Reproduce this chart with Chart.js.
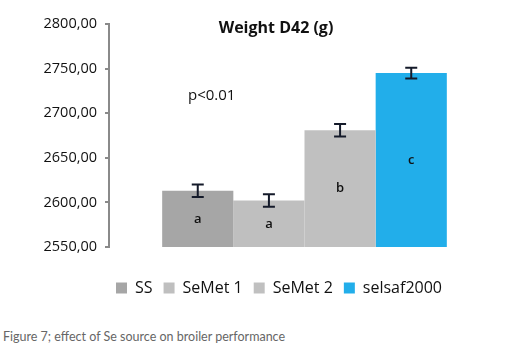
<!DOCTYPE html>
<html>
<head>
<meta charset="utf-8">
<script src="https://cdn.jsdelivr.net/npm/chart.js@4/dist/chart.umd.min.js"></script>
<style>
  html, body { margin: 0; padding: 0; background: #fff; }
  body { width: 515px; height: 357px; position: relative; overflow: hidden; }
  #wrap { position: absolute; left: 40px; top: 0; width: 475px; height: 320px; }
  #caption { position: absolute; left: 3px; top: 329px; font-family: Lato, "Open Sans", sans-serif; font-size: 12.5px; color: #666; white-space: nowrap; }
</style>
</head>
<body>
<div id="wrap"><canvas id="c" width="475" height="320"></canvas></div>
<div id="caption">Figure 7; effect of Se source on broiler performance</div>
<script>
const seriesNames = ['SS', 'SeMet 1', 'SeMet 2', 'selsaf2000'];
const weights = [2613, 2602, 2681, 2745];
const errors = [7, 7, 7, 6];
const letters = ['a', 'a', 'b', 'c'];
const colors = ['#a6a6a6', '#bfbfbf', '#c0c0c0', '#22aeea'];
const yTicks = [2550, 2600, 2650, 2700, 2750, 2800];
const titleText = 'Weight D42 (g)';
const noteText = 'p<0.01';

const FONT = '"Open Sans", sans-serif';

const extras = {
  id: 'extras',
  afterLayout(chart) {
    if (chart.legend) { chart.legend.left += 9; chart.legend.right += 9; }
  },
  afterDatasetsDraw(chart) {
    const ctx = chart.ctx;
    const y = chart.scales.y;
    const base = y.getPixelForValue(yTicks[0]);
    ctx.save();
    chart.data.datasets.forEach((ds, i) => {
      const bar = chart.getDatasetMeta(i).data[0];
      const x = bar.x;
      const top = y.getPixelForValue(weights[i]);
      // letters
      ctx.fillStyle = '#111';
      ctx.font = '600 13px ' + FONT;
      ctx.textAlign = 'center';
      ctx.textBaseline = 'middle';
      ctx.fillText(letters[i], x, (top + base) / 2);
      // error bars
      const yTop = y.getPixelForValue(weights[i] + errors[i]);
      const yBot = y.getPixelForValue(weights[i] - errors[i]);
      ctx.strokeStyle = '#141a2a';
      ctx.lineWidth = 2;
      ctx.beginPath();
      ctx.moveTo(x, yTop); ctx.lineTo(x, yBot);
      ctx.moveTo(x - 6, yTop); ctx.lineTo(x + 6, yTop);
      ctx.moveTo(x - 6, yBot); ctx.lineTo(x + 6, yBot);
      ctx.stroke();
    });
    // title
    ctx.fillStyle = '#111';
    ctx.font = 'bold 16px ' + FONT;
    ctx.textAlign = 'center';
    ctx.textBaseline = 'middle';
    ctx.fillText(titleText, 236, 28);
    // note
    ctx.font = '15px ' + FONT;
    ctx.textAlign = 'left';
    ctx.fillText(noteText, 148, 96);
    ctx.restore();
  }
};

new Chart(document.getElementById('c'), {
  type: 'bar',
  data: {
    labels: [''],
    datasets: seriesNames.map((n, i) => ({
      label: n,
      data: [weights[i]],
      backgroundColor: colors[i],
      borderWidth: 0,
      categoryPercentage: 0.728,
      barPercentage: 1.0
    }))
  },
  options: {
    responsive: false,
    animation: false,
    layout: { padding: { top: 24, right: 15, bottom: 14, left: 0 } },
    plugins: {
      legend: {
        position: 'bottom',
        labels: {
          boxWidth: 11, boxHeight: 11, padding: 11,
          color: '#111',
          font: { family: FONT, size: 16 }
        }
      },
      tooltip: { enabled: false }
    },
    scales: {
      x: {
        display: true,
        ticks: { display: false },
        grid: { display: false },
        border: { display: false },
        afterFit: s => { s.height = 22; }
      },
      y: {
        min: yTicks[0],
        max: yTicks[yTicks.length - 1],
        afterBuildTicks: s => { s.ticks = yTicks.map(v => ({ value: v })); },
        afterFit: s => { s.width = 69; },
        ticks: {
          color: '#111',
          padding: 8,
          font: { family: FONT, size: 14.5 },
          callback: v => v.toFixed(2).replace('.', ',')
        },
        grid: { drawOnChartArea: false, drawTicks: true, tickLength: 4, color: '#8a8a8a', lineWidth: 2 },
        border: { display: true, color: '#8a8a8a', width: 2 }
      }
    }
  },
  plugins: [extras]
});
</script>
</body>
</html>
